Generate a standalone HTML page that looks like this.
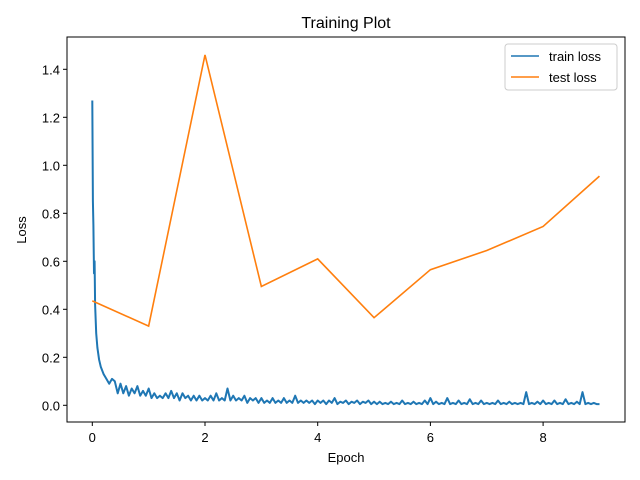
<!DOCTYPE html>
<html><head><meta charset="utf-8"><style>
body{margin:0;background:#fff}
svg{display:block;font-family:"Liberation Sans","DejaVu Sans",sans-serif}
</style></head><body>
<svg id="chart" width="640" height="480">
<text x="346" y="28" font-size="16" text-anchor="middle">Training Plot</text>
<g id="plot"></g>
<rect x="67" y="37" width="558" height="385" fill="none" stroke="#000" stroke-width="1"/>
<g id="xticks"></g><g id="yticks"></g>
<text x="346" y="462" font-size="13" text-anchor="middle">Epoch</text>
<text x="26" y="230" font-size="13" text-anchor="middle" transform="rotate(-90 26 230)">Loss</text>
<g>
<rect x="505" y="44" width="112" height="46" rx="3" fill="#fff" stroke="#ccc"/>
<g><line x1="511" y1="56" x2="539" y2="56" stroke="#1f77b4" stroke-width="1.5"/><text x="549" y="61" font-size="13">train loss</text></g>
<g><line x1="511" y1="77" x2="539" y2="77" stroke="#ff7f0e" stroke-width="1.5"/><text x="549" y="82" font-size="13">test loss</text></g>
</g>
</svg>
<script>
const xTicks=[0,2,4,6,8];
const yTicks=[0.0,0.2,0.4,0.6,0.8,1.0,1.2,1.4];
const testEpochs=[0,1,2,3,4,5,6,7,8,9];
const testLoss=[0.435,0.33,1.46,0.495,0.61,0.365,0.565,0.645,0.745,0.955];
const trainEarlyEpochs=[0,0.01,0.02,0.03,0.04,0.05,0.07,0.09,0.12,0.15,0.2,0.25,0.3,0.35];
const trainEarlyLoss=[1.27,0.85,0.75,0.55,0.6,0.42,0.3,0.24,0.19,0.16,0.13,0.11,0.09,0.11];
const trainStart=0.4, trainStep=0.05;
const trainLoss=[0.10,0.05,0.09,0.05,0.08,0.04,0.07,0.05,0.08,0.04,0.06,0.04,0.07,
0.03,0.05,0.03,0.04,0.03,0.05,0.03,0.06,0.03,0.05,0.02,0.05,0.03,0.04,0.02,0.04,0.02,0.04,0.02,0.03,
0.02,0.04,0.02,0.05,0.02,0.03,0.02,0.07,0.02,0.04,0.02,0.03,0.02,0.04,0.01,0.03,0.02,0.03,0.01,0.03,
0.01,0.02,0.01,0.03,0.01,0.02,0.01,0.03,0.01,0.02,0.01,0.04,0.01,0.02,0.01,0.02,0.01,0.02,0.005,0.02,
0.01,0.02,0.005,0.02,0.01,0.03,0.005,0.015,0.01,0.02,0.005,0.015,0.01,0.02,0.005,0.015,0.01,0.02,0.005,0.015,
0.005,0.015,0.005,0.01,0.005,0.015,0.005,0.01,0.005,0.02,0.005,0.01,0.005,0.015,0.005,0.01,0.005,0.02,0.005,0.03,
0.005,0.015,0.005,0.01,0.005,0.03,0.005,0.01,0.005,0.02,0.005,0.01,0.005,0.025,0.005,0.01,0.005,0.02,0.005,0.01,
0.005,0.01,0.005,0.02,0.005,0.01,0.005,0.015,0.005,0.01,0.005,0.01,0.005,0.055,0.005,0.01,0.005,0.015,0.005,0.02,
0.005,0.01,0.005,0.02,0.005,0.01,0.005,0.025,0.005,0.01,0.005,0.015,0.005,0.055,0.005,0.01,0.005,0.01,0.005,0.005];
const X0=92.3,XS=56.35,Y0=405.3,YS=240;
const xs=v=>X0+v*XS, ys=v=>Y0-v*YS;
const NS='http://www.w3.org/2000/svg';
function mk(t,a,p){const e=document.createElementNS(NS,t);for(const k in a)e.setAttribute(k,a[k]);p.appendChild(e);return e;}
const xt=document.getElementById('xticks'),yt=document.getElementById('yticks'),plot=document.getElementById('plot');
xTicks.forEach(v=>{const g=mk('g',{},xt);


mk('line',{x1:xs(v),x2:xs(v),y1:422,y2:426,stroke:'#000'},g);
const t=mk('text',{x:xs(v),y:442,'font-size':13,'text-anchor':'middle'},g);t.textContent=v;});
yTicks.forEach(v=>{const g=mk('g',{},yt);


mk('line',{x1:63,x2:67,y1:ys(v),y2:ys(v),stroke:'#000'},g);
const t=mk('text',{x:60,y:ys(v)+5,'font-size':13,'text-anchor':'end'},g);t.textContent=v.toFixed(1);});
let pts=trainEarlyEpochs.map((e,i)=>xs(e).toFixed(1)+','+ys(trainEarlyLoss[i]).toFixed(1));
trainLoss.forEach((v,i)=>pts.push(xs(trainStart+i*trainStep).toFixed(1)+','+ys(v).toFixed(1)));
const tl=mk('polyline',{points:pts.join(' '),fill:'none',stroke:'#1f77b4','stroke-width':2,'stroke-linejoin':'round'},plot);


const te=mk('polyline',{points:testEpochs.map((e,i)=>xs(e)+','+ys(testLoss[i])).join(' '),fill:'none',stroke:'#ff7f0e','stroke-width':1.6},plot);


</script>
</body></html>
